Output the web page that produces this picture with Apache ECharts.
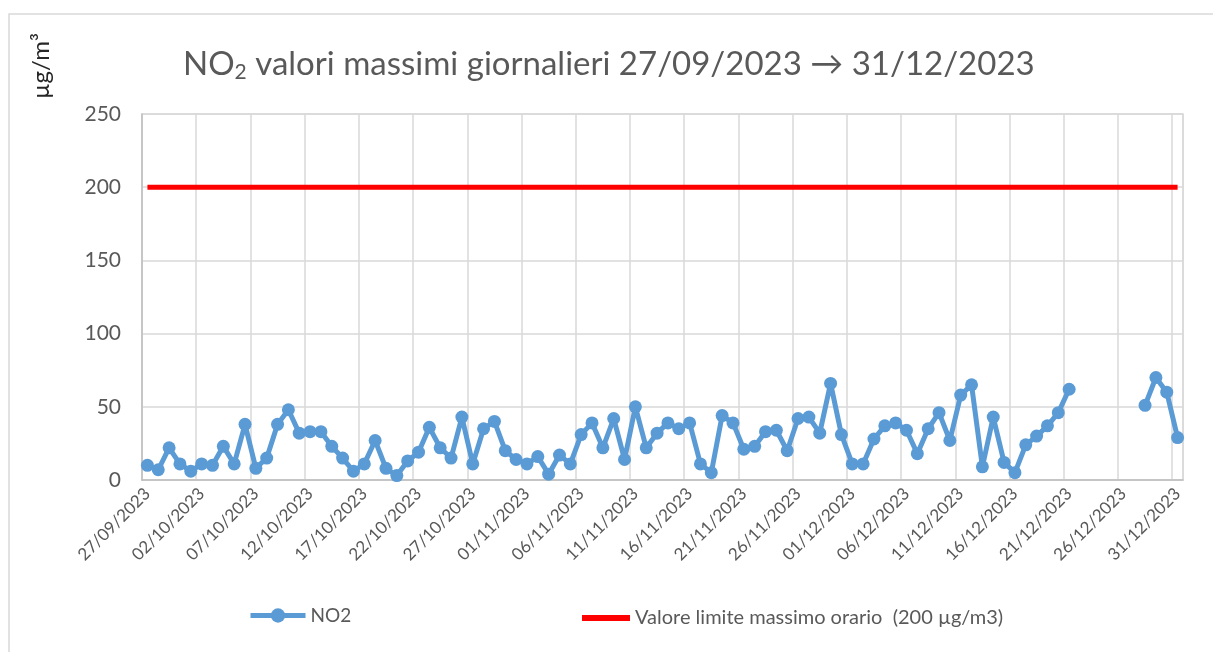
<!DOCTYPE html>
<html>
<head>
<meta charset="utf-8">
<script src="https://cdn.jsdelivr.net/npm/echarts@6/dist/echarts.min.js"></script>
<style>
  html, body { margin: 0; padding: 0; background: #fff; }
  #main { width: 1213px; height: 652px; }
</style>
</head>
<body>
<div id="main"></div>
<script>
// daily maxima, 27/09/2023 -> 31/12/2023 (null = no data)
const days = []
const start = new Date(2023, 8, 27)
for (let d = new Date(start); d <= new Date(2023, 11, 31); d.setDate(d.getDate() + 1)) {
  const dd = String(d.getDate()).padStart(2, '0')
  const mm = String(d.getMonth() + 1).padStart(2, '0')
  days.push(dd + '/' + mm + '/' + d.getFullYear())
}

const no2Sep = [10, 7, 22, 11]
const no2Oct = [6, 11, 10, 23, 11, 38, 8, 15, 38, 48, 32, 33, 33, 23, 15, 6,
  11, 27, 8, 3, 13, 19, 36, 22, 15, 43, 11, 35, 40, 20, 14]
const no2Nov = [11, 16, 4, 17, 11, 31, 39, 22, 42, 14, 50, 22, 32, 39, 35, 39,
  11, 5, 44, 39, 21, 23, 33, 34, 20, 42, 43, 32, 66, 31]
const no2Dec = [11, 11, 28, 37, 39, 34, 18, 35, 46, 27, 58, 65, 9, 43, 12, 5,
  24, 30, 37, 46, 62, null, null, null, null, null, null, 51, 70, 60, 29]
const no2 = no2Sep.concat(no2Oct, no2Nov, no2Dec)

const limitValue = 200
const limit = days.map(() => limitValue)

const limitName = 'Valore limite massimo orario  (200 µg/m3)'
const font = 'Lato, "Open Sans", sans-serif'
const grey = '#595959'

let myChart = echarts.init(document.getElementById('main'))
let option = {
  backgroundColor: '#ffffff',
  animation: false,
  title: {
    text: '{a|NO}{s|2}{a| valori massimi giornalieri 27/09/2023 → 31/12/2023}',
    left: 178,
    top: 41,
    textStyle: {
      rich: {
        a: { fontFamily: font, fontSize: 33, fontWeight: 'normal', color: grey },
        s: { fontFamily: font, fontSize: 21, fontWeight: 'normal', color: grey, verticalAlign: 'bottom', padding: [16, 0, 0, 0] }
      }
    }
  },
  graphic: [
    {
      type: 'rect',
      shape: { x: 9, y: 14, width: 1300, height: 700 },
      style: { fill: 'none', stroke: '#d9d9d9', lineWidth: 1.5 },
      silent: true
    },
    {
      type: 'text',
      x: 41, y: 66,
      rotation: Math.PI / 2,
      style: {
        text: 'µg/m³',
        fontFamily: font,
        fontSize: 24,
        fill: '#262626',
        align: 'center',
        verticalAlign: 'middle'
      }
    }
  ],
  legend: [
    {
      data: ['NO2'],
      left: 243, top: 601,
      itemWidth: 55, itemHeight: 18, itemGap: 4,
      lineStyle: { width: 5 },
      textStyle: { fontFamily: font, fontSize: 19, color: grey }
    },
    {
      data: [{ name: limitName, icon: 'rect' }],
      left: 577, top: 603,
      itemWidth: 48, itemHeight: 6, itemGap: 4,
      textStyle: { fontFamily: font, fontSize: 20, color: grey }
    }
  ],
  grid: {
    left: 142, right: 30, top: 114, bottom: 172,
    show: true, borderColor: '#d9d9d9', borderWidth: 1.5
  },
  xAxis: {
    type: 'category',
    data: days,
    boundaryGap: true,
    axisLine: { lineStyle: { color: '#bfbfbf', width: 1.5 } },
    axisTick: { interval: 4, length: 6, lineStyle: { color: '#bfbfbf', width: 1.5 } },
    axisLabel: {
      interval: 4, rotate: 45, margin: 11,
      fontFamily: font, fontSize: 17, color: grey
    },
    splitLine: { show: true, interval: 4, lineStyle: { color: '#d9d9d9', width: 1.5 } }
  },
  yAxis: {
    type: 'value',
    min: 0, max: 250, interval: 50,
    axisLine: { show: true, lineStyle: { color: '#bfbfbf', width: 1.5 } },
    axisTick: { show: false },
    axisLabel: { margin: 21, fontFamily: font, fontSize: 21, color: grey },
    splitLine: { lineStyle: { color: '#d9d9d9', width: 1.5 } }
  },
  series: [
    {
      name: 'NO2',
      type: 'line',
      data: no2,
      connectNulls: false,
      symbol: 'circle',
      symbolSize: 13,
      showAllSymbol: true,
      itemStyle: { color: '#5b9bd5' },
      lineStyle: { color: '#5b9bd5', width: 5 }
    },
    {
      name: limitName,
      type: 'line',
      data: limit,
      symbol: 'none',
      itemStyle: { color: '#ff0000' },
      lineStyle: { color: '#ff0000', width: 5 }
    }
  ]
}
myChart.setOption(option)
</script>
</body>
</html>
